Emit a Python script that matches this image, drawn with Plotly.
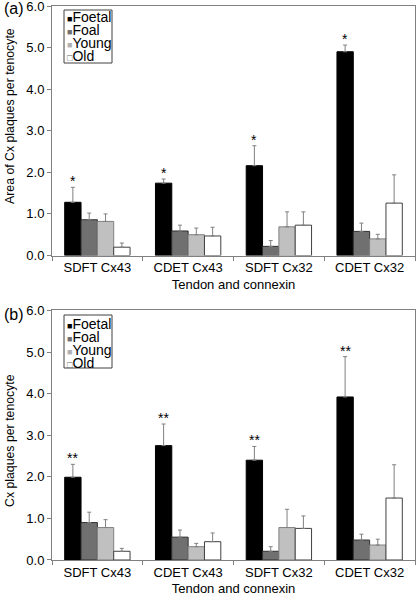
import plotly.graph_objects as go
from plotly.subplots import make_subplots

categories = ["SDFT Cx43", "CDET Cx43", "SDFT Cx32", "CDET Cx32"]
groups = ["Foetal", "Foal", "Young", "Old"]

# Panel (a): Area of Cx plaques per tenocyte
foetal_a = [1.28, 1.74, 2.16, 4.90]
foal_a = [0.86, 0.59, 0.22, 0.58]
young_a = [0.82, 0.50, 0.69, 0.40]
old_a = [0.20, 0.47, 0.73, 1.26]
foetal_a_se = [0.36, 0.10, 0.48, 0.16]
foal_a_se = [0.16, 0.14, 0.14, 0.20]
young_a_se = [0.18, 0.16, 0.36, 0.11]
old_a_se = [0.10, 0.21, 0.32, 0.68]
stars_a = ["*", "*", "*", "*"]

# Panel (b): Cx plaques per tenocyte
foetal_b = [1.99, 2.75, 2.40, 3.92]
foal_b = [0.90, 0.55, 0.21, 0.48]
young_b = [0.78, 0.32, 0.78, 0.36]
old_b = [0.21, 0.44, 0.76, 1.49]
foetal_b_se = [0.31, 0.52, 0.33, 0.97]
foal_b_se = [0.25, 0.17, 0.11, 0.14]
young_b_se = [0.19, 0.08, 0.44, 0.14]
old_b_se = [0.07, 0.21, 0.30, 0.80]
stars_b = ["**", "**", "**", "**"]

y_ticks = [0, 1, 2, 3, 4, 5, 6]
y_ticktext = ["0.0", "1.0", "2.0", "3.0", "4.0", "5.0", "6.0"]

fills = ["#000000", "#707070", "#c0c0c0", "#ffffff"]
outlines = ["#000000", "#303030", "#808080", "#404040"]
legend_marks = ["#000000", "#707070", "#b0b0b0", "#ffffff"]
FONT = "Liberation Sans, Arial, sans-serif"
BARGAP = 0.28

# figure geometry (pixels)
W, H = 417, 600
ML, MR, MT, MB = 52, 2, 6, 40
PW = W - ML - MR
PH = H - MT - MB


def px_x(px):
    return (px - ML) / PW


def px_y(py):
    return 1 - (py - MT) / PH


fig = make_subplots(rows=2, cols=1, vertical_spacing=0.0992)

panels = [
    (1, [foetal_a, foal_a, young_a, old_a], [foetal_a_se, foal_a_se, young_a_se, old_a_se], stars_a),
    (2, [foetal_b, foal_b, young_b, old_b], [foetal_b_se, foal_b_se, young_b_se, old_b_se], stars_b),
]

for row, vals, ses, stars in panels:
    for g, name in enumerate(groups):
        fig.add_trace(go.Bar(
            x=categories, y=vals[g], name=name, showlegend=False,
            marker=dict(color=fills[g], line=dict(color=outlines[g], width=1)),
            error_y=dict(type="data", array=ses[g], arrayminus=[0] * len(ses[g]),
                         symmetric=False, color="#808080", thickness=1, width=2),
        ), row=row, col=1)
    off = -3 * (1 - BARGAP) / 8
    for i, s in enumerate(stars):
        top = vals[0][i] + ses[0][i]
        fig.add_annotation(x=i + off, y=top, text=s, showarrow=False,
                           yanchor="bottom", yshift=-4,
                           xref="x" if row == 1 else "x2",
                           yref="y" if row == 1 else "y2",
                           font=dict(size=14, color="black", family=FONT))

axis_common = dict(showline=True, linecolor="#808080", linewidth=1, mirror=True,
                   showgrid=False, zeroline=False, automargin=False,
                   ticklabeloverflow="allow")
for r in (1, 2):
    fig.update_xaxes(row=r, col=1, **axis_common, ticks="outside", tickson="boundaries",
                     ticklen=4, tickcolor="#808080",
                     tickfont=dict(size=13, color="black", family=FONT),
                     title=dict(text="Tendon and connexin", standoff=5,
                                font=dict(size=13, color="black", family=FONT)))
    fig.update_yaxes(row=r, col=1, **axis_common, range=[0, 6], tickvals=y_ticks,
                     ticktext=y_ticktext, ticks="outside", ticklen=4, tickcolor="#808080",
                     tickfont=dict(size=13, color="black", family=FONT))

fig.update_layout(
    width=W, height=H,
    margin=dict(l=ML, r=MR, t=MT, b=MB),
    paper_bgcolor="white", plot_bgcolor="white",
    barmode="group", bargap=BARGAP, bargroupgap=0,
    font=dict(family=FONT, color="black"),
    showlegend=False,
)

# y-axis titles (placed as in the original, slightly off-centre in panel a)
y_titles = [("Area of Cx plaques per tenocyte", 116), ("Cx plaques per tenocyte", 441)]
for text, cy in y_titles:
    fig.add_annotation(text=text, textangle=-90, x=px_x(10), y=px_y(cy),
                       xref="paper", yref="paper", showarrow=False,
                       xanchor="center", yanchor="middle",
                       font=dict(size=12.3, color="black", family=FONT))

# Legend boxes drawn as text + frame (compact style of the original)
legend_boxes = [(10, 63, [17.5, 30.5, 43.5, 56.5]), (315, 368, [323.5, 336.5, 349.5, 362.5])]
for top_px, bot_px, line_px in legend_boxes:
    fig.add_shape(type="rect", xref="paper", yref="paper",
                  x0=px_x(64), x1=px_x(112), y0=px_y(bot_px), y1=px_y(top_px),
                  line=dict(color="#404040", width=1), fillcolor="white", layer="above")
    for g, name in enumerate(groups):
        mark = "■" if g < 3 else "□"
        col = legend_marks[g] if g < 3 else "#606060"
        fig.add_annotation(
            text=f'<span style="color:{col};font-size:9px">{mark}</span>{name}',
            x=px_x(65), y=px_y(line_px[g]), xref="paper", yref="paper",
            xanchor="left", yanchor="middle", showarrow=False,
            font=dict(size=14, color="black", family=FONT))

fig.add_annotation(text="(a)", x=px_x(2), y=px_y(9), xref="paper", yref="paper",
                   showarrow=False, xanchor="left", yanchor="middle",
                   font=dict(size=16, color="black", family=FONT))
fig.add_annotation(text="(b)", x=px_x(2), y=px_y(314), xref="paper", yref="paper",
                   showarrow=False, xanchor="left", yanchor="middle",
                   font=dict(size=16, color="black", family=FONT))

fig.write_html("out.html", config={"displayModeBar": False},
               post_script="document.body.style.margin='0';document.body.style.overflow='hidden';")
